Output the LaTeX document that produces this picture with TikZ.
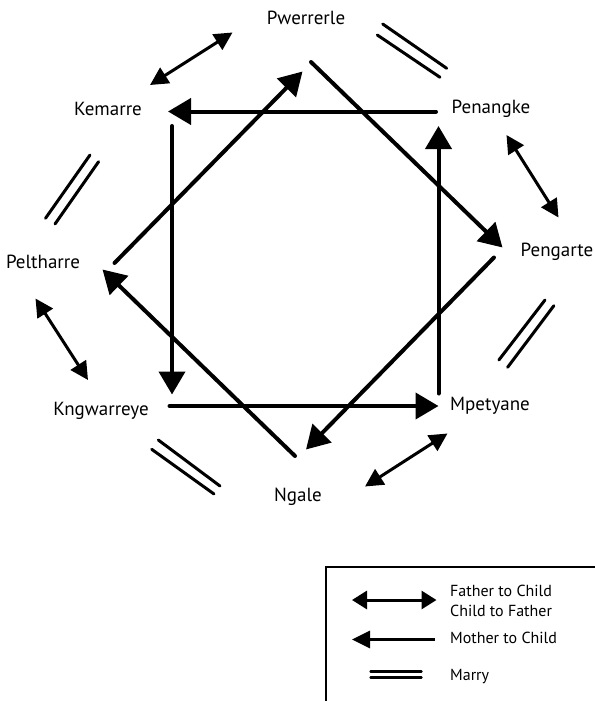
\documentclass[tikz,border=0pt]{standalone}
\usepackage{fontspec}
\setmainfont{PT Sans}
\usetikzlibrary{arrows.meta}
\begin{document}
\begin{tikzpicture}[x=1pt,y=-1pt,
  lbl/.style={font=\fontsize{19}{22}\selectfont, anchor=base, inner sep=0pt},
  leg/.style={font=\fontsize{16}{19}\selectfont, anchor=base west, inner sep=0pt},
  mainarrow/.style={line width=4pt, line cap=round, -{Triangle[length=23pt,width=26pt]}},
  fatherarrow/.style={line width=3pt, {Triangle[length=18pt,width=18pt]}-{Triangle[length=18pt,width=18pt]}},
  marry/.style={line width=3pt, line cap=round},
  legbox/.style={line width=2pt}]
\useasboundingbox (0,0) rectangle (594,701);

% labels
\node[lbl] (pwe) at (306,25) {Pwerrerle};
\node[lbl] (kem) at (108,115) {Kemarre};
\node[lbl] (pen) at (491,113) {Penangke};
\node[lbl] (pel) at (43,268) {Peltharre};
\node[lbl] (peg) at (557,256.5) {Pengarte};
\node[lbl] (kng) at (101,415) {Kngwarreye};
\node[lbl] (mpe) at (490,410) {Mpetyane};
\node[lbl] (nga) at (298,501.5) {Ngale};

% endpoints of mother-to-child arrows
\coordinate (a1s) at (436,111.5);   \coordinate (a1e) at (168,111.5);
\coordinate (a2s) at (172,126);     \coordinate (a2e) at (172,394.5);
\coordinate (a3s) at (169.5,406);   \coordinate (a3e) at (438.5,406);
\coordinate (a4s) at (438.5,393.5); \coordinate (a4e) at (438.5,126);
\coordinate (a5s) at (114.5,263);   \coordinate (a5e) at (302.5,71.5);
\coordinate (a6s) at (311,62);      \coordinate (a6e) at (502.5,247.5);
\coordinate (a7s) at (494,257.5);   \coordinate (a7e) at (306,449.5);
\coordinate (a8s) at (295,456);     \coordinate (a8e) at (102.5,269.5);

\draw[mainarrow] (a1s) -- (a1e);
\draw[mainarrow] (a2s) -- (a2e);
\draw[mainarrow] (a3s) -- (a3e);
\draw[mainarrow] (a4s) -- (a4e);
\draw[mainarrow] (a5s) -- (a5e);
\draw[mainarrow] (a6s) -- (a6e);
\draw[mainarrow] (a7s) -- (a7e);
\draw[mainarrow] (a8s) -- (a8e);

% father <-> child arrows
\coordinate (f1a) at (150,85);     \coordinate (f1b) at (232.5,32.5);
\coordinate (f2a) at (506.5,135);  \coordinate (f2b) at (558.5,217.5);
\coordinate (f3a) at (35.5,298.5); \coordinate (f3b) at (88,380);
\coordinate (f4a) at (365,486.5);  \coordinate (f4b) at (447.5,433.5);
\draw[fatherarrow] (f1a) -- (f1b);
\draw[fatherarrow] (f2a) -- (f2b);
\draw[fatherarrow] (f3a) -- (f3b);
\draw[fatherarrow] (f4a) -- (f4b);

% marry lines
\coordinate (m1a) at (382.7,24);  \coordinate (m1b) at (446.7,68.3);
\coordinate (m1c) at (377.3,35);  \coordinate (m1d) at (440,77.3);
\coordinate (m2a) at (90,155);    \coordinate (m2b) at (45.5,218.3);
\coordinate (m2c) at (98.6,161.7);\coordinate (m2d) at (55,224);
\coordinate (m3a) at (545,300);   \coordinate (m3b) at (498.9,360);
\coordinate (m3c) at (553.9,305.7);\coordinate (m3d) at (507.6,367.3);
\coordinate (m4a) at (158.3,440); \coordinate (m4b) at (220,486);
\coordinate (m4c) at (151.7,449.3);\coordinate (m4d) at (214,494);
\draw[marry] (m1a) -- (m1b); \draw[marry] (m1c) -- (m1d);
\draw[marry] (m2a) -- (m2b); \draw[marry] (m2c) -- (m2d);
\draw[marry] (m3a) -- (m3b); \draw[marry] (m3c) -- (m3d);
\draw[marry] (m4a) -- (m4b); \draw[marry] (m4c) -- (m4d);

% legend
\coordinate (bx1) at (326,702);
\coordinate (bx2) at (326,567);
\coordinate (bx3) at (595,567);
\draw[legbox] (bx1) -- (bx2) -- (bx3);
\coordinate (l1a) at (352,600); \coordinate (l1b) at (436.5,600);
\draw[line width=3pt, {Triangle[length=15pt,width=18pt]}-{Triangle[length=15pt,width=18pt]}] (l1a) -- (l1b);
\coordinate (l2a) at (435,639.5); \coordinate (l2b) at (352,639.5);
\draw[line width=3pt, -{Triangle[length=18pt,width=17pt]}] (l2a) -- (l2b);
\coordinate (l3a) at (370.5,671.5); \coordinate (l3b) at (421.5,671.5);
\coordinate (l3c) at (370.5,677.5); \coordinate (l3d) at (421.5,677.5);
\draw[line width=2.4pt, line cap=round] (l3a) -- (l3b);
\draw[line width=2.4pt, line cap=round] (l3c) -- (l3d);
\node[leg] (t1) at (450,596.7) {Father to Child};
\node[leg] (t2) at (450,616.7) {Child to Father};
\node[leg] (t3) at (450,643.3) {Mother to Child};
\node[leg] (t4) at (450,680.7) {Marry};
\end{tikzpicture}
\end{document}
